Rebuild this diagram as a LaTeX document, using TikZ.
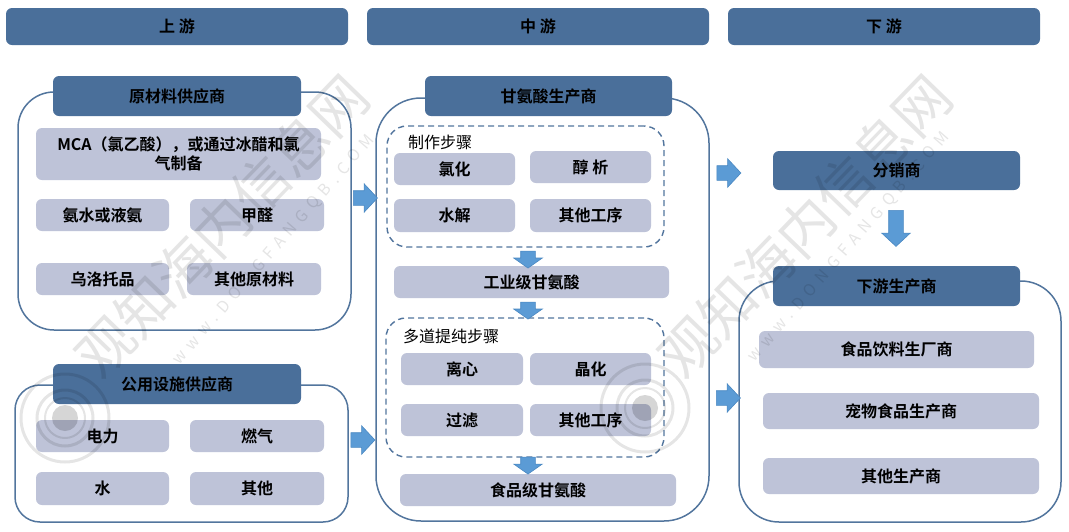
\documentclass[tikz,border=0pt]{standalone}
\usepackage{fontspec}
\setmainfont{Noto Sans CJK SC}[BoldFont={Noto Sans CJK SC Bold}]
\usetikzlibrary{shapes.arrows}
\definecolor{hdr}{HTML}{4A6F9A}
\definecolor{lite}{HTML}{BEC3D8}
\definecolor{edge}{HTML}{52759D}
\definecolor{arrowf}{HTML}{5B9BD5}
\definecolor{arrowd}{HTML}{4A88C2}
\newcommand{\bx}[7]{\node[#6,minimum width={(#4-#2)*1pt},minimum height={(#5-#3)*1pt}] (#1) at ({(#2+#4)/2},{(#3+#5)/2}) {#7};}
\tikzset{
  basebox/.style={inner sep=0pt,outer sep=0pt,align=center,text=black,font=\bfseries\fontsize{16}{19}\selectfont},
  band/.style={basebox,fill=hdr,rounded corners=6pt},
  lightbox/.style={basebox,fill=lite,rounded corners=6pt},
  panel/.style={inner sep=0pt,outer sep=0pt,draw=edge,line width=1.5pt,fill=white,rounded corners=#1},
  dashbox/.style={inner sep=0pt,outer sep=0pt,draw=edge,line width=1.4pt,dash pattern=on 6pt off 4pt,rounded corners=20pt},
  steplabel/.style={inner sep=0pt,font=\fontsize{16}{19}\selectfont},
  blockr/.style={single arrow,draw=arrowd,fill=arrowf,line width=.6pt,inner xsep=0pt,inner ysep=7pt,outer sep=0pt,minimum width=28pt,single arrow head extend=7pt,single arrow tip angle=94,minimum height=24pt},
  blockd/.style={blockr,inner xsep=7pt,inner ysep=0pt,shape border rotate=270,minimum height=#1},
  wmark/.style={opacity=.1,text=black,inner sep=0pt},
}
\begin{document}
\begin{tikzpicture}[x=1pt,y=-1pt]
\useasboundingbox (0,0) rectangle (1069,531);
% column headers
\bx{up}{6}{8}{348}{45}{band}{上 游}
\bx{mid}{367}{8}{709}{45}{band}{中 游}
\bx{down}{728}{8}{1040}{45}{band}{下 游}
% upstream
\bx{rawp}{18}{92}{351}{330}{panel=36pt}{}
\bx{raw}{53}{76}{301}{116}{band}{原材料供应商}
\bx{mca}{36}{128}{321}{180}{lightbox}{MCA（氯乙酸），或通过冰醋和氯\\气制备}
\bx{nh}{36}{199}{169}{231}{lightbox}{氨水或液氨}
\bx{ch}{190}{199}{324}{231}{lightbox}{甲醛}
\bx{uro}{36}{263}{169}{295}{lightbox}{乌洛托品}
\bx{oraw}{187}{263}{321}{295}{lightbox}{其他原材料}
\bx{utip}{15}{385}{348}{522}{panel=25pt}{}
\bx{uti}{53}{364}{301}{404}{band}{公用设施供应商}
\bx{ele}{36}{420}{169}{452}{lightbox}{电力}
\bx{gas}{190}{420}{324}{452}{lightbox}{燃气}
\bx{wat}{36}{472}{169}{505}{lightbox}{水}
\bx{oth}{190}{472}{324}{505}{lightbox}{其他}
% midstream
\bx{glyp}{376}{98}{709}{521}{panel=45pt}{}
\bx{gly}{425}{76}{672}{116}{band}{甘氨酸生产商}
\bx{d1}{387}{126}{664}{247}{dashbox}{}
\node[steplabel] (l1) at (440,142) {制作步骤};
\bx{cl}{394}{153}{515}{185}{lightbox}{氯化}
\bx{alc}{530}{151}{651}{183}{lightbox}{醇 析}
\bx{hyd}{394}{199}{515}{232}{lightbox}{水解}
\bx{op1}{530}{199}{651}{232}{lightbox}{其他工序}
\bx{ind}{394}{266}{669}{298}{lightbox}{工业级甘氨酸}
\bx{d2}{386}{318}{664}{457}{dashbox}{}
\node[steplabel] (l2) at (451,336) {多道提纯步骤};
\bx{cen}{401}{353}{523}{385}{lightbox}{离心}
\bx{cry}{530}{353}{651}{385}{lightbox}{晶化}
\bx{fil}{401}{404}{523}{436}{lightbox}{过滤}
\bx{op2}{530}{404}{651}{436}{lightbox}{其他工序}
\bx{food}{400}{474}{676}{506}{lightbox}{食品级甘氨酸}
% downstream
\bx{dis}{773}{151}{1020}{190}{band}{分销商}
\bx{dsp}{739}{281}{1061}{522}{panel=40pt}{}
\bx{ds}{773}{266}{1020}{306}{band}{下游生产商}
\bx{fb}{759}{331}{1034}{368}{lightbox}{食品饮料生厂商}
\bx{pet}{763}{393}{1039}{429}{lightbox}{宠物食品生产商}
\bx{ops}{763}{458}{1039}{494}{lightbox}{其他生产商}
% block arrows
\node[blockr] (a1) at (362,198) {};
\node[blockr] (a2) at (359.5,440) {};
\node[blockr] (a3) at (725.5,173) {};
\node[blockr] (a4) at (725,398) {};
\node[blockd=17pt,single arrow tip angle=110] (a5) at (528,257) {};
\node[blockd=17pt,single arrow tip angle=110] (a6) at (528,308) {};
\node[blockd=17pt,single arrow tip angle=110] (a7) at (528,463) {};
\node[blockd=36pt,single arrow tip angle=94] (a8) at (896,225) {};
% watermark
\node[wmark,rotate=46,font=\fontsize{56}{56}\selectfont] (w1) at (222,226) {观知海内信息网};
\node[wmark,rotate=46,font=\fontsize{56}{56}\selectfont] (w2) at (805,226) {观知海内信息网};
\node[wmark,rotate=49,font=\fontsize{16}{16}\selectfont] (w3) at (274,250) {\addfontfeature{LetterSpace=40}www.DONGFANGQB.COM};
\node[wmark,rotate=49,font=\fontsize{16}{16}\selectfont] (w4) at (849,247) {\addfontfeature{LetterSpace=40}www.DONGFANGQB.COM};
\foreach \cx/\cy in {65/418,645/408}{
  \draw[opacity=.1,line width=3pt] (\cx,\cy) circle (44);
  \draw[opacity=.1,line width=3pt] (\cx,\cy) circle (28);
  \draw[opacity=.1,line width=2pt] (\cx,\cy) circle (20);
  \fill[opacity=.16] (\cx,\cy) circle (13);
}
\end{tikzpicture}
\end{document}
